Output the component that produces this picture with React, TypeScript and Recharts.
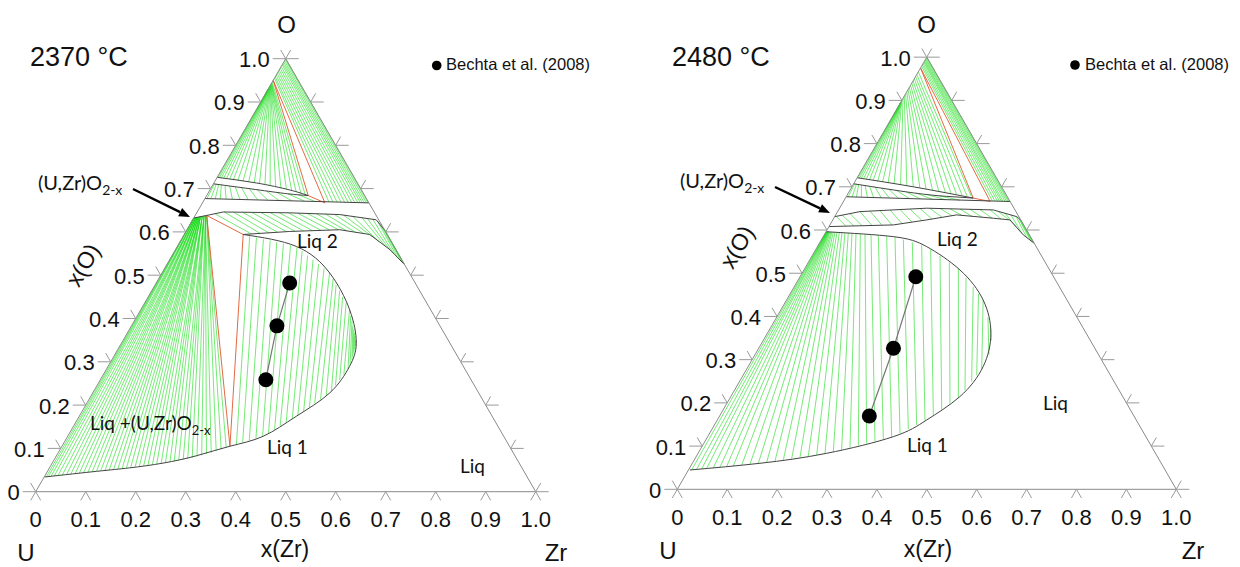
import React from 'react';
import { ComposedChart, Line, Scatter, XAxis, YAxis } from 'recharts';

// ---------- data (compositions: [x(Zr), x(O)]) ----------
const TICK_VALUES = [0, 0.1, 0.2, 0.3, 0.4, 0.5, 0.6, 0.7, 0.8, 0.9, 1.0];
const TICK_LABELS = ['0', '0.1', '0.2', '0.3', '0.4', '0.5', '0.6', '0.7', '0.8', '0.9', '1.0'];

// ===== 2370 °C =====
const L_SLIVER_TOP = [[0, 0.726], [0.085, 0.713], [0.159, 0.697], [0.203, 0.684]];
const L_SLIVER_BOT = [[0, 0.711], [0.09, 0.698], [0.16, 0.688], [0.203, 0.684]];
const L_ZRO2 = [[0, 0.677], [0.333, 0.667]];
const L_OXIDE_BOT = [[0, 0.632], [0.023, 0.638], [0.052, 0.646], [0.186, 0.644], [0.288, 0.64], [0.367, 0.628], [0.3955, 0.6045]];
const L_LIQ2_BAND = [[0.118, 0.594], [0.2075, 0.601], [0.3055, 0.605], [0.371, 0.594], [0.429, 0.559], [0.476, 0.524]];
const L_DOME = [[0.118, 0.594], [0.238, 0.5665], [0.3355, 0.505], [0.418, 0.42], [0.4697, 0.343], [0.483, 0.289], [0.474, 0.228], [0.434, 0.174], [0.391, 0.128], [0.336, 0.105], [0.28, 0.083], [0.2216, 0.066], [0.16, 0.055], [0.098, 0.047], [0.001, 0.034]];
const L_RED = [
  [[0, 0.95], [0.203, 0.684]],
  [[0, 0.95], [0.245, 0.667]],
  [[0.203, 0.684], [0.245, 0.667]],
  [[0.023, 0.638], [0.118, 0.594]],
  [[0.023, 0.638], [0.336, 0.105]],
  [[0.118, 0.594], [0.336, 0.105]],
];
// [zrBottom, oBottom, oTop on U-O side]
const L_FAN_A = [[0.002, 0.726, 0.93], [0.005, 0.725, 0.93], [0.009, 0.725, 0.93], [0.014, 0.724, 0.93], [0.02, 0.723, 0.93], [0.027, 0.722, 0.93], [0.035, 0.721, 0.931], [0.045, 0.719, 0.932], [0.056, 0.717, 0.933], [0.068, 0.716, 0.934], [0.08, 0.714, 0.935], [0.092, 0.711, 0.936], [0.104, 0.709, 0.937], [0.116, 0.706, 0.938], [0.128, 0.704, 0.939], [0.14, 0.701, 0.94], [0.152, 0.699, 0.941], [0.164, 0.696, 0.942], [0.175, 0.692, 0.943], [0.186, 0.689, 0.944], [0.196, 0.686, 0.946]];
const L_FAN_B = [[0.252, 0.669, 0.955], [0.26, 0.669, 0.958], [0.268, 0.669, 0.962], [0.276, 0.669, 0.966], [0.284, 0.668, 0.97], [0.291, 0.668, 0.974], [0.298, 0.668, 0.978], [0.304, 0.668, 0.982], [0.31, 0.668, 0.986], [0.315, 0.668, 0.989], [0.32, 0.667, 0.992], [0.324, 0.667, 0.995], [0.328, 0.667, 0.998], [0.331, 0.667, 1.0]];
const L_TIE_C = [[0.002, 0.711, 0.004, 0.677], [0.006, 0.71, 0.012, 0.677], [0.011, 0.71, 0.021, 0.676], [0.017, 0.709, 0.031, 0.676], [0.025, 0.707, 0.043, 0.676], [0.035, 0.706, 0.056, 0.675], [0.047, 0.704, 0.071, 0.675], [0.061, 0.702, 0.088, 0.674], [0.077, 0.7, 0.107, 0.674], [0.095, 0.697, 0.128, 0.673], [0.115, 0.694, 0.151, 0.672], [0.137, 0.691, 0.176, 0.672], [0.16, 0.688, 0.202, 0.671], [0.182, 0.686, 0.224, 0.67]];
const L_TIE_BAND = [[0.0385, 0.6413, 0.1345, 0.5949], [0.054, 0.646, 0.151, 0.5963], [0.0727, 0.6455, 0.1677, 0.5977], [0.0912, 0.6453, 0.1843, 0.5991], [0.1097, 0.645, 0.2009, 0.6007], [0.1283, 0.6446, 0.2176, 0.6016], [0.1468, 0.6443, 0.2346, 0.6023], [0.1654, 0.6441, 0.2517, 0.603], [0.184, 0.6436, 0.2686, 0.6037], [0.2027, 0.643, 0.2856, 0.6044], [0.2209, 0.643, 0.3027, 0.6051], [0.2397, 0.6423, 0.321, 0.6023], [0.2584, 0.6416, 0.3399, 0.5991], [0.2775, 0.6402, 0.3587, 0.5958], [0.2967, 0.6386, 0.3778, 0.5896], [0.3164, 0.6356, 0.3976, 0.5776], [0.336, 0.6328, 0.4176, 0.5656], [0.3479, 0.631, 0.4295, 0.5582], [0.3595, 0.6293, 0.4412, 0.5497], [0.3716, 0.6247, 0.4525, 0.5413], [0.3836, 0.6148, 0.4642, 0.5328], [0.3902, 0.6097, 0.4702, 0.5284], [0.3935, 0.607, 0.4735, 0.526], [0.3955, 0.6045, 0.476, 0.524]];
const L_FAN_LIQ = [[0.004, 0.034, 0, 0.632], [0.008, 0.035, 0, 0.632], [0.013, 0.035, 0, 0.632], [0.019, 0.036, 0, 0.632], [0.026, 0.037, 0.002, 0.633], [0.034, 0.038, 0.002, 0.633], [0.042, 0.039, 0.002, 0.633], [0.05, 0.04, 0.002, 0.633], [0.058, 0.041, 0.004, 0.633], [0.066, 0.042, 0.004, 0.633], [0.074, 0.043, 0.004, 0.633], [0.082, 0.045, 0.004, 0.633], [0.09, 0.046, 0.006, 0.634], [0.098, 0.047, 0.006, 0.634], [0.106, 0.048, 0.006, 0.634], [0.114, 0.049, 0.006, 0.634], [0.122, 0.05, 0.008, 0.634], [0.13, 0.052, 0.008, 0.634], [0.138, 0.053, 0.008, 0.634], [0.146, 0.054, 0.008, 0.634], [0.154, 0.055, 0.01, 0.635], [0.162, 0.056, 0.01, 0.635], [0.17, 0.058, 0.01, 0.635], [0.178, 0.059, 0.01, 0.635], [0.186, 0.06, 0.012, 0.635], [0.194, 0.061, 0.012, 0.635], [0.202, 0.063, 0.012, 0.635], [0.21, 0.064, 0.012, 0.635], [0.218, 0.066, 0.015, 0.636], [0.226, 0.067, 0.015, 0.636], [0.234, 0.069, 0.015, 0.636], [0.242, 0.07, 0.015, 0.636], [0.25, 0.072, 0.018, 0.637], [0.258, 0.074, 0.018, 0.637], [0.266, 0.076, 0.018, 0.637], [0.274, 0.078, 0.018, 0.637], [0.282, 0.081, 0.021, 0.637], [0.29, 0.084, 0.021, 0.637], [0.298, 0.087, 0.021, 0.637], [0.306, 0.09, 0.021, 0.637], [0.314, 0.094, 0.023, 0.638], [0.322, 0.098, 0.023, 0.638], [0.33, 0.102, 0.023, 0.638]];
const L_TIE_GAP = [[0.347, 0.109, 0.133, 0.59], [0.357, 0.1139, 0.148, 0.587], [0.368, 0.1182, 0.164, 0.583], [0.379, 0.1229, 0.179, 0.58], [0.39, 0.1275, 0.194, 0.5764], [0.398, 0.1353, 0.209, 0.573], [0.406, 0.1436, 0.225, 0.5695], [0.413, 0.1517, 0.24, 0.5656], [0.421, 0.1598, 0.255, 0.5557], [0.429, 0.1681, 0.271, 0.5457], [0.436, 0.1764, 0.287, 0.5356], [0.443, 0.1857, 0.303, 0.5256], [0.45, 0.1947, 0.319, 0.5155], [0.456, 0.2039, 0.335, 0.5055], [0.463, 0.2132, 0.349, 0.4917], [0.47, 0.2222, 0.362, 0.4776], [0.475, 0.2328, 0.376, 0.4637], [0.477, 0.2453, 0.389, 0.4497], [0.479, 0.258, 0.403, 0.4356], [0.481, 0.2707, 0.417, 0.4215], [0.483, 0.2834, 0.427, 0.406], [0.482, 0.2935, 0.4355, 0.3942], [0.48, 0.3051, 0.443, 0.3824], [0.478, 0.3127, 0.449, 0.3746], [0.476, 0.3206, 0.454, 0.367], [0.474, 0.3282, 0.459, 0.3594], [0.472, 0.3358, 0.464, 0.3513]];
const L_DOTS = [[0.267, 0.482], [0.291, 0.383], [0.331, 0.2587]];

// ===== 2480 °C =====
const R_SLIVER_TOP = [[0, 0.721], [0.123, 0.7], [0.256, 0.674]];
const R_SLIVER_BOT = [[0, 0.707], [0.13, 0.686], [0.2, 0.678], [0.256, 0.674]];
const R_ZRO2 = [[0, 0.677], [0.334, 0.666]];
const R_OXIDE_BOT = [[0, 0.631], [0.0448, 0.6426], [0.1746, 0.6505], [0.31, 0.6465], [0.3647, 0.631], [0.3766, 0.6234]];
const R_LIQ2_BAND = [[0, 0.608], [0.127, 0.6118], [0.1881, 0.6234], [0.2424, 0.635], [0.3196, 0.6273], [0.355, 0.6234], [0.3991, 0.5887], [0.4306, 0.5694]];
const R_DOME = [[0.001, 0.596], [0.1405, 0.5847], [0.219, 0.5616], [0.3127, 0.5076], [0.394, 0.438], [0.448, 0.361], [0.471, 0.2838], [0.459, 0.2144], [0.4196, 0.1604], [0.372, 0.1218], [0.2577, 0.0833], [0.1356, 0.0602], [0.003, 0.0447]];
const R_RED = [
  [[0, 0.975], [0.256, 0.674]],
  [[0, 0.975], [0.294, 0.666]],
  [[0.256, 0.674], [0.294, 0.666]],
];
const R_FAN_A = [[0.002, 0.721, 0.894], [0.005, 0.72, 0.894], [0.009, 0.719, 0.894], [0.014, 0.719, 0.894], [0.02, 0.718, 0.894], [0.027, 0.716, 0.894], [0.035, 0.715, 0.894], [0.045, 0.713, 0.895], [0.056, 0.711, 0.896], [0.068, 0.709, 0.898], [0.081, 0.707, 0.9], [0.095, 0.705, 0.905], [0.109, 0.702, 0.91], [0.123, 0.7, 0.915], [0.137, 0.698, 0.92], [0.151, 0.695, 0.925], [0.165, 0.693, 0.93], [0.179, 0.69, 0.935], [0.193, 0.688, 0.94], [0.206, 0.685, 0.945], [0.218, 0.683, 0.95], [0.23, 0.681, 0.955], [0.241, 0.679, 0.96], [0.25, 0.678, 0.966]];
const R_FAN_B = [[0.298, 0.667, 0.979], [0.303, 0.667, 0.982], [0.308, 0.667, 0.985], [0.312, 0.667, 0.988], [0.316, 0.667, 0.99], [0.32, 0.666, 0.992], [0.324, 0.666, 0.994], [0.327, 0.666, 0.996], [0.33, 0.666, 0.998], [0.332, 0.666, 1.0]];
const R_TIE_C = [[0.002, 0.707, 0.004, 0.677], [0.006, 0.706, 0.012, 0.677], [0.011, 0.705, 0.021, 0.676], [0.017, 0.704, 0.031, 0.676], [0.025, 0.703, 0.043, 0.676], [0.035, 0.701, 0.056, 0.675], [0.047, 0.699, 0.071, 0.675], [0.061, 0.697, 0.088, 0.674], [0.077, 0.694, 0.107, 0.673], [0.095, 0.691, 0.128, 0.673], [0.115, 0.688, 0.151, 0.672], [0.137, 0.685, 0.176, 0.671], [0.16, 0.682, 0.203, 0.67], [0.185, 0.679, 0.232, 0.669]];
const R_TIE_BAND = [[0.0019, 0.6322, 0.0337, 0.6088], [0.0127, 0.6347, 0.0495, 0.6093], [0.027, 0.6382, 0.0651, 0.61], [0.0448, 0.6426, 0.085, 0.6104], [0.0643, 0.6438, 0.1046, 0.6111], [0.0837, 0.6449, 0.1243, 0.6118], [0.1032, 0.6463, 0.1429, 0.6148], [0.1226, 0.6475, 0.1612, 0.6183], [0.142, 0.6486, 0.1795, 0.6218], [0.1615, 0.6498, 0.1977, 0.6255], [0.1813, 0.6502, 0.2157, 0.6294], [0.2016, 0.6498, 0.2339, 0.6331], [0.222, 0.6491, 0.2536, 0.6338], [0.2423, 0.6484, 0.2747, 0.6317], [0.2626, 0.6479, 0.2958, 0.6296], [0.283, 0.6472, 0.3169, 0.6275], [0.3033, 0.6468, 0.336, 0.6255], [0.3209, 0.6435, 0.3529, 0.6236], [0.3373, 0.6389, 0.375, 0.6076], [0.3513, 0.6347, 0.3947, 0.5921], [0.3631, 0.6315, 0.41, 0.5815], [0.3719, 0.6257, 0.4219, 0.5738], [0.3745, 0.6245, 0.4255, 0.5718], [0.3758, 0.6238, 0.4285, 0.5705], [0.3766, 0.6234, 0.4306, 0.5694]];
const R_TIE_DOME = [[0.0063, 0.0451, 0.0011, 0.5964], [0.0157, 0.0461, 0.0011, 0.5964], [0.0252, 0.0472, 0.0018, 0.5963], [0.0347, 0.0484, 0.0018, 0.5963], [0.0473, 0.0498, 0.0026, 0.5962], [0.0599, 0.0513, 0.0032, 0.5962], [0.0725, 0.0528, 0.0039, 0.5961], [0.0852, 0.0542, 0.0047, 0.596], [0.101, 0.0561, 0.0053, 0.596], [0.1167, 0.0579, 0.0067, 0.5959], [0.1325, 0.0597, 0.0081, 0.5958], [0.1479, 0.0624, 0.0102, 0.5956], [0.1631, 0.0653, 0.0123, 0.5954], [0.1784, 0.0682, 0.0151, 0.5952], [0.1937, 0.0711, 0.0186, 0.5949], [0.2089, 0.074, 0.0227, 0.5946], [0.2241, 0.0769, 0.0277, 0.5941], [0.2394, 0.0798, 0.0332, 0.5937], [0.2547, 0.0826, 0.0395, 0.5932], [0.2691, 0.0871, 0.0464, 0.5926], [0.2834, 0.0919, 0.0541, 0.592], [0.2977, 0.0968, 0.0625, 0.5913], [0.312, 0.1016, 0.0716, 0.5905], [0.3263, 0.1064, 0.0814, 0.5897], [0.3406, 0.1112, 0.0939, 0.5887], [0.3549, 0.116, 0.1092, 0.5874], [0.3692, 0.1208, 0.1266, 0.586], [0.3815, 0.1296, 0.1445, 0.5836], [0.3934, 0.1392, 0.1641, 0.5779], [0.4053, 0.1488, 0.1852, 0.5716], [0.4172, 0.1585, 0.2072, 0.5651], [0.4275, 0.1712, 0.2302, 0.5552], [0.4375, 0.1847, 0.2565, 0.54], [0.4474, 0.1982, 0.2827, 0.5249], [0.4574, 0.2117, 0.3081, 0.5103], [0.462, 0.2293, 0.3338, 0.4897], [0.4654, 0.2491, 0.359, 0.468], [0.468, 0.2641, 0.3777, 0.452], [0.4706, 0.2789, 0.3939, 0.4382], [0.469, 0.311, 0.4236, 0.398], [0.457, 0.344, 0.4417, 0.372]];
const R_DOTS = [[0.232, 0.492], [0.27, 0.3264], [0.3, 0.1697]];

// ---------- helpers ----------
const S3 = Math.sqrt(3) / 2;
type P = { x: number; y: number | null; label?: string };
const toXY = (zr: number, o: number): P => ({ x: zr + o / 2, y: o * S3 });

function polys(list: number[][][]): P[] {
  const out: P[] = [];
  list.forEach((poly) => {
    poly.forEach(([zr, o]) => out.push(toXY(zr, o)));
    out.push({ x: out[out.length - 1].x, y: null });
  });
  return out;
}
const fanSide = (rows: number[][]) => polys(rows.map(([zb, ob, ot]) => [[zb, ob], [0, ot]]));
const ties = (rows: number[][]) => polys(rows.map(([a, b, c, d]) => [[a, b], [c, d]]));

const TH = 0.026; // horizontal tick length (axis units)
const TD = 0.02; // diagonal tick length
function tickData(): P[] {
  const out: P[] = [];
  const push = (pts: P[]) => {
    pts.forEach((p) => out.push(p));
    out.push({ x: pts[pts.length - 1].x, y: null });
  };
  TICK_VALUES.forEach((t) => {
    const L = toXY(0, t);
    push([{ x: L.x - TH, y: L.y }, L, { x: L.x - TD * 0.5, y: (L.y as number) + TD * S3 }]);
    const R = toXY(1 - t, t);
    push([{ x: R.x + TH, y: R.y }, R, { x: R.x + TD * 0.5, y: (R.y as number) + TD * S3 }]);
    const B = toXY(t, 0);
    push([{ x: B.x - TD * 0.5, y: -TD * S3 }, B, { x: B.x + TD * 0.5, y: -TD * S3 }]);
  });
  return out;
}
const FRAME = polys([[[0, 0], [1, 0], [0, 1], [0, 0]]]);
const LEFT_LABELS: P[] = TICK_VALUES.map((t, i) => ({ ...toXY(0, t), label: TICK_LABELS[i] }));
const BOTTOM_LABELS: P[] = TICK_VALUES.map((t, i) => ({ ...toXY(t, 0), label: TICK_LABELS[i] }));

const ARIAL = '"Liberation Sans", Arial, sans-serif';
const CAL = 'Lato, "Open Sans", sans-serif';
const GREEN = '#18dc18';
const RED = '#e0582e';
const BLACK = '#444444';

const leftLabelShape = (p: any) => (
  <text x={p.cx - 16} y={p.cy + 1} textAnchor="end" dominantBaseline="central" fontSize={22} fontFamily={ARIAL} fill="#111">
    {p.payload.label}
  </text>
);
const bottomLabelShape = (p: any) => (
  <text x={p.cx} y={p.cy + 28} textAnchor="middle" dominantBaseline="central" fontSize={22} fontFamily={ARIAL} fill="#111">
    {p.payload.label}
  </text>
);
const dotShape = (p: any) => <circle cx={p.cx} cy={p.cy} r={7.5} fill="#000" />;

interface Cfg {
  xDomain: [number, number];
  yDomain: [number, number];
  green: P[][];
  red: P[];
  smooth: P[];
  straight: P[];
  dots: number[][];
}

function ln(key: string, data: P[], stroke: string, w: number, type: any = 'linear') {
  return (
    <Line
      key={key}
      data={data}
      dataKey="y"
      type={type}
      stroke={stroke}
      strokeWidth={w}
      dot={false}
      activeDot={false}
      connectNulls={false}
      isAnimationActive={false}
      legendType="none"
    />
  );
}

function Ternary({ cfg }: { cfg: Cfg }) {
  const dotPts = cfg.dots.map(([zr, o]) => toXY(zr, o));
  return (
    <ComposedChart width={620} height={567} margin={{ top: 0, right: 0, bottom: 0, left: 0 }}>
      <XAxis type="number" dataKey="x" domain={cfg.xDomain} hide allowDataOverflow />
      <YAxis type="number" dataKey="y" domain={cfg.yDomain} hide allowDataOverflow />
      {cfg.green.map((d, i) => ln('g' + i, d, GREEN, 0.6))}
      {ln('red', cfg.red, RED, 0.9)}
      {ln('smooth', cfg.smooth, BLACK, 1, 'natural')}
      {ln('straight', cfg.straight, BLACK, 1, 'linear')}
      {ln('frame', FRAME, '#8a8a8a', 1)}
      {ln('ticks', tickData(), '#9a9a9a', 1)}
      {ln('dotline', dotPts, '#777', 1.2)}
      <Scatter data={dotPts} dataKey="y" shape={dotShape} isAnimationActive={false} />
      <Scatter data={LEFT_LABELS} dataKey="y" shape={leftLabelShape} isAnimationActive={false} />
      <Scatter data={BOTTOM_LABELS} dataKey="y" shape={bottomLabelShape} isAnimationActive={false} />
    </ComposedChart>
  );
}

const LEFT_CFG: Cfg = {
  xDomain: [-0.0714, 1.1686],
  yDomain: [-0.1506, 0.9834],
  green: [fanSide(L_FAN_A), fanSide(L_FAN_B), ties(L_TIE_C), ties(L_TIE_BAND), ties(L_FAN_LIQ), ties(L_TIE_GAP)],
  red: polys(L_RED),
  smooth: polys([L_SLIVER_TOP, L_SLIVER_BOT, L_DOME]),
  straight: polys([L_ZRO2, L_OXIDE_BOT, L_LIQ2_BAND]),
  dots: L_DOTS,
};
const RIGHT_CFG: Cfg = {
  xDomain: [-0.1148, 1.1277],
  yDomain: [-0.1557, 0.9806],
  green: [fanSide(R_FAN_A), fanSide(R_FAN_B), ties(R_TIE_C), ties(R_TIE_BAND), ties(R_TIE_DOME)],
  red: polys(R_RED),
  smooth: polys([R_SLIVER_TOP, R_SLIVER_BOT, R_DOME]),
  straight: polys([R_ZRO2, R_OXIDE_BOT, R_LIQ2_BAND]),
  dots: R_DOTS,
};

function Arrow({ x1, y1, x2, y2 }: { x1: number; y1: number; x2: number; y2: number }) {
  const dx = x2 - x1;
  const dy = y2 - y1;
  const len = Math.hypot(dx, dy);
  const ux = dx / len;
  const uy = dy / len;
  const bx = x2 - 11 * ux;
  const by = y2 - 11 * uy;
  const nx = -uy * 4.5;
  const ny = ux * 4.5;
  return (
    <g>
      <line x1={x1} y1={y1} x2={bx} y2={by} stroke="#000" strokeWidth={2.4} />
      <polygon points={`${x2},${y2} ${bx + nx},${by + ny} ${bx - nx},${by - ny}`} fill="#000" />
    </g>
  );
}

function Overlay() {
  return (
    <svg width={1240} height={567} style={{ position: 'absolute', left: 0, top: 0, pointerEvents: 'none' }}>
      {/* left */}
      <text x={30} y={66} fontSize={27} fontFamily={ARIAL} fill="#111">2370 °C</text>
      <text x={286.5} y={33} fontSize={24} fontFamily={ARIAL} textAnchor="middle" fill="#111">O</text>
      <circle cx={436.7} cy={65.5} r={4.8} fill="#000" />
      <text x={446} y={70} fontSize={16.5} fontFamily={ARIAL} fill="#111">Bechta et al. (2008)</text>
      <text x={38} y={190} fontSize={20} fontFamily={CAL} fill="#111">
        (U,Zr)O<tspan fontSize={14} dy={5}>2-x</tspan>
      </text>
      <Arrow x1={133} y1={189} x2={190} y2={217} />
      <text x={297} y={248} fontSize={19} fontFamily={CAL} fill="#111">Liq 2</text>
      <text x={90} y={430} fontSize={19} fontFamily={CAL} fill="#111">
        Liq +(U,Zr)O<tspan fontSize={13} dy={5}>2-x</tspan>
      </text>
      <text x={267} y={454} fontSize={19} fontFamily={CAL} fill="#111">Liq 1</text>
      <text x={460} y={473} fontSize={19} fontFamily={CAL} fill="#111">Liq</text>
      <text x={83} y={265} fontSize={23} fontFamily={ARIAL} textAnchor="middle" dominantBaseline="central" transform="rotate(-60 83 265)" fill="#111">x(O)</text>
      <text x={26} y={561} fontSize={24} fontFamily={ARIAL} textAnchor="middle" fill="#111">U</text>
      <text x={285} y={557} fontSize={23} fontFamily={ARIAL} textAnchor="middle" fill="#111">x(Zr)</text>
      <text x={556} y={561} fontSize={24} fontFamily={ARIAL} textAnchor="middle" fill="#111">Zr</text>

      {/* right */}
      <text x={672} y={66} fontSize={27} fontFamily={ARIAL} fill="#111">2480 °C</text>
      <text x={926.7} y={33} fontSize={24} fontFamily={ARIAL} textAnchor="middle" fill="#111">O</text>
      <circle cx={1075} cy={65} r={4.8} fill="#000" />
      <text x={1085} y={70} fontSize={16.5} fontFamily={ARIAL} fill="#111">Bechta et al. (2008)</text>
      <text x={680} y={188} fontSize={20} fontFamily={CAL} fill="#111">
        (U,Zr)O<tspan fontSize={14} dy={5}>2-x</tspan>
      </text>
      <Arrow x1={775} y1={187} x2={830} y2={213} />
      <text x={937} y={246} fontSize={19} fontFamily={CAL} fill="#111">Liq 2</text>
      <text x={907} y={452} fontSize={19} fontFamily={CAL} fill="#111">Liq 1</text>
      <text x={1043} y={410} fontSize={19} fontFamily={CAL} fill="#111">Liq</text>
      <text x={737} y={247} fontSize={23} fontFamily={ARIAL} textAnchor="middle" dominantBaseline="central" transform="rotate(-60 737 247)" fill="#111">x(O)</text>
      <text x={668} y={559} fontSize={24} fontFamily={ARIAL} textAnchor="middle" fill="#111">U</text>
      <text x={928} y={557} fontSize={23} fontFamily={ARIAL} textAnchor="middle" fill="#111">x(Zr)</text>
      <text x={1193} y={559} fontSize={24} fontFamily={ARIAL} textAnchor="middle" fill="#111">Zr</text>
    </svg>
  );
}

export default function App() {
  return (
    <div style={{ position: 'absolute', left: 0, top: 0, width: 1240, height: 567, background: '#fff', overflow: 'hidden' }}>
      <div style={{ position: 'absolute', left: 0, top: 0 }}>
        <Ternary cfg={LEFT_CFG} />
      </div>
      <div style={{ position: 'absolute', left: 620, top: 0 }}>
        <Ternary cfg={RIGHT_CFG} />
      </div>
      <Overlay />
    </div>
  );
}
